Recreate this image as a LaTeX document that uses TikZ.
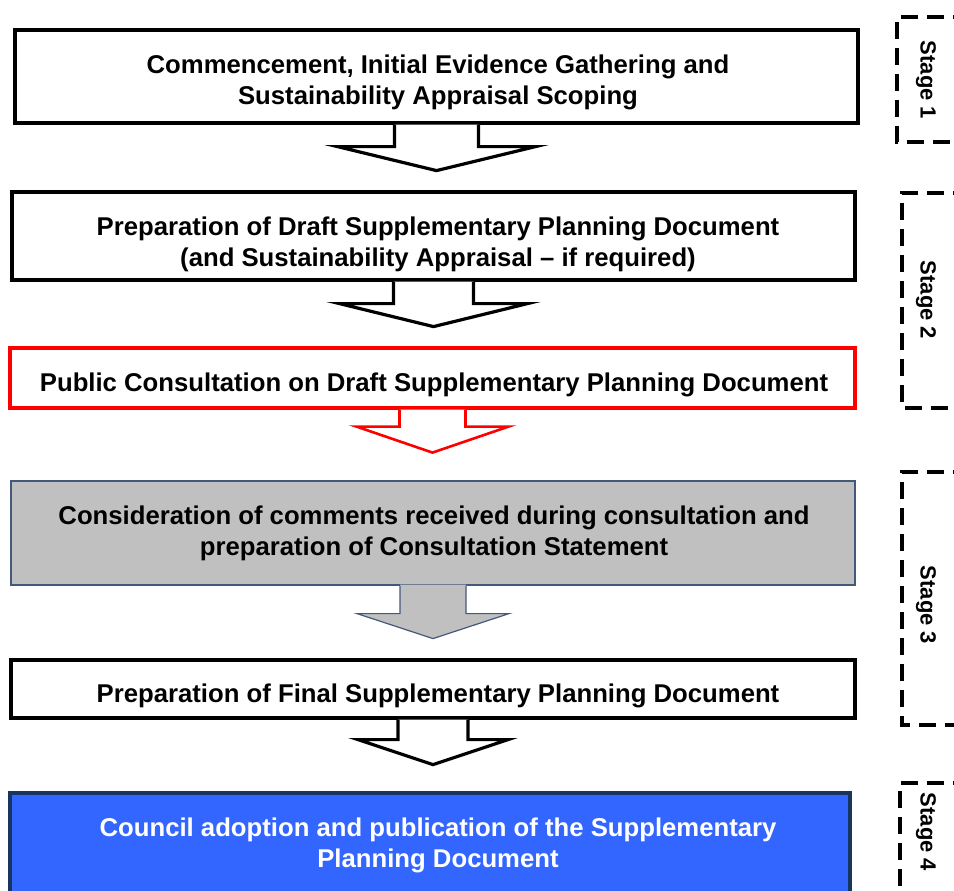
\documentclass[tikz,border=0pt]{standalone}
\usepackage{fontspec}
\setmainfont{Liberation Sans}
\usetikzlibrary{calc}
\definecolor{boxgray}{HTML}{C0C0C0}
\definecolor{grayedge}{HTML}{44597A}
\definecolor{councilblue}{HTML}{3366FF}
\definecolor{navy}{HTML}{16365F}
\tikzset{
  stagebox/.style={draw=black, line width=3.2pt, inner sep=0pt},
  boxtext/.style={align=center, font=\fontsize{25.7}{31}\selectfont\bfseries, inner sep=0pt},
  stagelabel/.style={font=\fontsize{22}{26}\selectfont\bfseries, rotate=-90},
  stageframe/.style={draw=black, line width=3.6pt, dash pattern=on 17pt off 9pt},
  blockline/.style={draw=black, line width=3.2pt, line join=miter, fill=white},
}
\begin{document}
\begin{tikzpicture}[x=1pt,y=-1pt]
\useasboundingbox (0,0) rectangle (954,891);
\fill[white] (0,0) rectangle (954,891);
\begin{scope}
\clip (0,0) rectangle (954,891);
% boxes
\node[stagebox, minimum width=843, minimum height=93] (b1) at (436.5,76.5) {};
\node[boxtext] (t1) at (438,82) {Commencement, Initial Evidence Gathering and\\Sustainability Appraisal Scoping};
\node[stagebox, minimum width=843, minimum height=88] (b2) at (433.5,236) {};
\node[boxtext] (t2) at (438,244) {Preparation of Draft Supplementary Planning Document\\(and Sustainability Appraisal -- if required)};
\node[stagebox, draw=red, minimum width=845, minimum height=60] (b3) at (432.5,378) {};
\node[boxtext] (t3) at (434,385) {Public Consultation on Draft Supplementary Planning Document};
\node[stagebox, draw=grayedge, line width=1.2pt, fill=boxgray, minimum width=844, minimum height=104] (b4) at (433,533) {};
\node[boxtext] (t4) at (434,533) {Consideration of comments received during consultation and\\preparation of Consultation Statement};
\node[stagebox, minimum width=844, minimum height=58] (b5) at (433,689) {};
\node[boxtext] (t5) at (438,696) {Preparation of Final Supplementary Planning Document};
\node[stagebox, draw=navy, line width=4pt, fill=councilblue, minimum width=840, minimum height=120] (b6) at (430,853) {};
\node[boxtext, text=white] (t6) at (438,845) {Council adoption and publication of the Supplementary\\Planning Document};
% arrows
\draw[blockline] ($(b1.south)+(-42,0)$) -- ++(0,22) -- ++(-57,0) -- ($(b1.south)+(0,46)$) -- ($(b1.south)+(99,22)$) -- ++(-57,0) -- ($(b1.south)+(42,0)$);
\draw[blockline] ($(b2.south)+(-40,0)$) -- ++(0,22) -- ++(-54,0) -- ($(b2.south)+(0,45)$) -- ($(b2.south)+(94,22)$) -- ++(-54,0) -- ($(b2.south)+(40,0)$);
\draw[blockline, draw=red, line width=2.6pt] ($(b3.south)+(-33,0)$) -- ++(0,17) -- ++(-43,0) -- ($(b3.south)+(0,43)$) -- ($(b3.south)+(76,17)$) -- ++(-43,0) -- ($(b3.south)+(33,0)$);
\fill[boxgray] ($(b4.south)+(-33,-1)$) -- ++(0,29) -- ++(-43,0) -- ($(b4.south)+(0,53)$) -- ($(b4.south)+(76,28)$) -- ++(-43,0) -- ($(b4.south)+(33,-1)$) -- cycle;
\draw[grayedge, line width=1.2pt, line join=miter] ($(b4.south)+(-33,0)$) -- ++(0,28) -- ++(-43,0) -- ($(b4.south)+(0,53)$) -- ($(b4.south)+(76,28)$) -- ++(-43,0) -- ($(b4.south)+(33,0)$);
\draw[blockline] ($(b5.south)+(-35,0)$) -- ++(0,20) -- ++(-40,0) -- ($(b5.south)+(0,45)$) -- ($(b5.south)+(75,20)$) -- ++(-40,0) -- ($(b5.south)+(35,0)$);
% stage frames
\draw[stageframe] (970,17) -- (897,17) -- (897,142) -- (970,142);
\node[stagelabel] (s1) at (926,80) {Stage 1};
\draw[stageframe] (970,193) -- (902,193) -- (902,408) -- (970,408);
\node[stagelabel] (s2) at (926,300) {Stage 2};
\draw[stageframe] (970,472) -- (902,472) -- (902,725) -- (970,725);
\node[stagelabel] (s3) at (926,605) {Stage 3};
\draw[stageframe] (970,783) -- (900,783) -- (900,900);
\node[stagelabel] (s4) at (926,832) {Stage 4};
\end{scope}
\end{tikzpicture}
\end{document}
